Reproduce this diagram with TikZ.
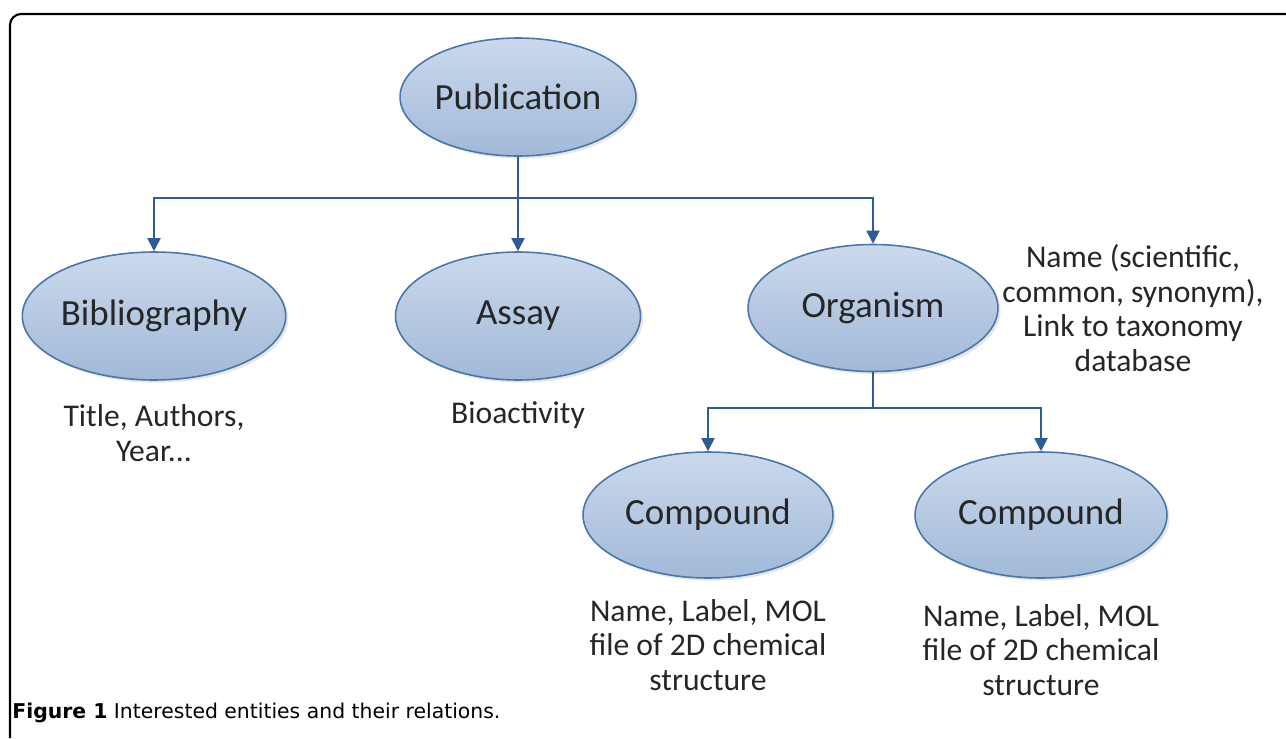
\documentclass[tikz,border=0pt]{standalone}
\usepackage{fontspec}
\setmainfont{Carlito}
\newfontfamily\capfont{DejaVu Sans}
\usepackage{tikz}
\usetikzlibrary{arrows.meta,positioning,shapes.geometric,shadows}
\definecolor{entfill}{HTML}{A1B9D8}
\definecolor{entlight}{HTML}{CBD9EC}
\definecolor{entline}{HTML}{4A76A8}
\definecolor{linkblue}{HTML}{2E5C96}
\definecolor{txtgray}{HTML}{262626}

\begin{document}
\begin{tikzpicture}[x=0.02cm,y=-0.02cm,
  entity/.style={ellipse,draw=entline,line width=0.9pt,top color=entlight,bottom color=entfill,inner sep=0pt,text=txtgray,font=\fontsize{21}{25}\selectfont,drop shadow={opacity=0.2,shadow xshift=1.5pt,shadow yshift=-1.5pt}},
  info/.style={align=center,text=txtgray,font=\fontsize{18}{19.8}\selectfont},
  link/.style={draw=linkblue,line width=1.1pt,-{Triangle[width=7.5pt,length=7.5pt]}}]
\useasboundingbox (0,0) rectangle (1286,738);

% Frame
\draw[line width=1.2pt,rounded corners=0.22cm] (10,738) -- (10,14) -- (1286,14);

% Entities
\node[entity,minimum width=4.56cm,minimum height=2.36cm] (pub) at (518,97) {Publication};
\node[entity,minimum width=5cm,minimum height=2.56cm] (bib) at (154,316) {Bibliography};
\node[entity,minimum width=4.9cm,minimum height=2.56cm] (assay) at (518,316) {Assay};
\node[entity,minimum width=5cm,minimum height=2.54cm] (org) at (873,308) {Organism};
\node[entity,minimum width=5cm,minimum height=2.52cm] (cmp1) at (708,515) {Compound};
\node[entity,minimum width=5.04cm,minimum height=2.52cm] (cmp2) at (1041,515) {Compound};

% Attributes
\node[info] (bibinfo) at (154,433) {Title, Authors,\\Year...};
\node[info] (assayinfo) at (518,415) {Bioactivity};
\node[info] (orginfo) at (1133,308) {Name (scientific,\\common, synonym),\\Link to taxonomy\\database};
\node[info] (cmp1info) at (708,645) {Name, Label, MOL\\file of 2D chemical\\structure};
\node[info] (cmp2info) at (1041,650) {Name, Label, MOL\\file of 2D chemical\\structure};

% Relations
\coordinate (bus) at (518,198);
\coordinate (orgbus) at (873,408);
\draw[link] (pub.south) -- (bus) -| (bib.north);
\draw[link] (bus) -- (assay.north);
\draw[link] (bus) -| (org.north);
\draw[link] (org.south) -- (orgbus) -| (cmp1.north);
\draw[link] (orgbus) -| (cmp2.north);

% Caption
\node[anchor=base west,inner sep=0pt,font=\capfont\fontsize{11.6}{14}\selectfont] (caption) at (12,718) {\textbf{Figure 1} Interested entities and their relations.};
\end{tikzpicture}
\end{document}
